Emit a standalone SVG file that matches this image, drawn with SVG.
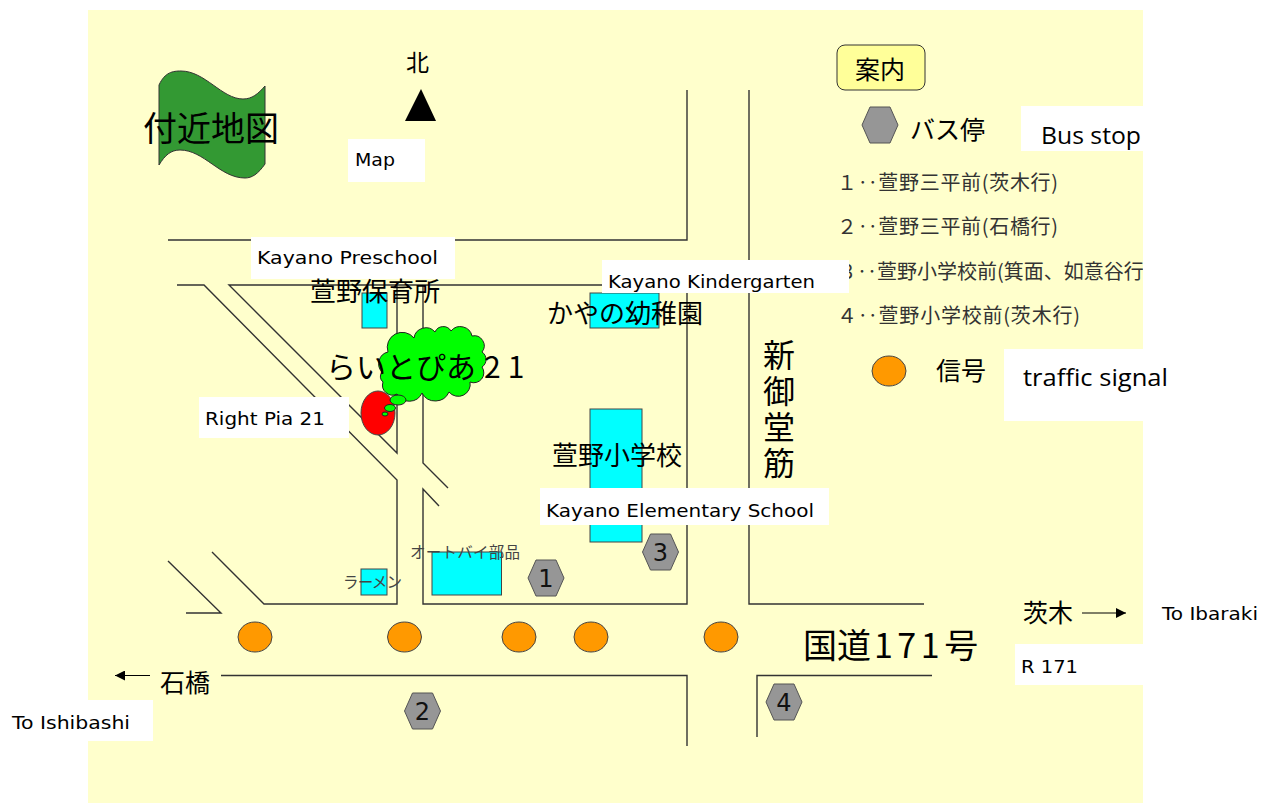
<svg xmlns="http://www.w3.org/2000/svg" xmlns:xlink="http://www.w3.org/1999/xlink" width="1263" height="803" viewBox="0 0 1263 803">
<defs>
<style>
text{font-family:"Noto Sans CJK JP","Liberation Sans",sans-serif;fill:#000}
.road{fill:none;stroke:#333;stroke-width:1.4}
.mask{fill:#fff}
.bldg{fill:#0ff;stroke:#444;stroke-width:1}
.sig{fill:#f90;stroke:#444;stroke-width:1}
.hex{fill:#969696;stroke:#555;stroke-width:1}
.jp{font-size:26px}
.en{font-family:"DejaVu Sans","Liberation Sans",sans-serif;font-size:18px}
.ca{font-family:"Open Sans","Liberation Sans",sans-serif;font-size:24px}
.li{font-size:20px;fill:#333}
.num{font-size:24px;text-anchor:middle;font-family:"DejaVu Sans",sans-serif;fill:#111}
.small{font-size:15.5px;fill:#444}
</style>
<polygon id="hexshape" class="hex" points="-18,0 -10,-18 10,-18 18,0 10,18 -10,18"/>
<marker id="ah" viewBox="0 0 10 10" refX="10" refY="5" markerWidth="10" markerHeight="10" markerUnits="userSpaceOnUse" orient="auto-start-reverse"><path d="M0 0L10 5L0 10Z" fill="#000"/></marker>
</defs>
<rect id="bg" x="88" y="10" width="1055" height="793" fill="#ffc"/>
<g id="banner">
<path d="M159 85C165 72 173 71 181 71C205 71 222 99 243 99C252 99 258 94 265 86V164C258 174 252 178 245 178C220 178 204 150 180 150C171 150 165 155 159 165Z" fill="#393" stroke="#333" stroke-width="1"/>
<text x="143" y="141" font-size="34">付近地図</text>
</g>
<g id="north">
<text x="406" y="71" font-size="23">北</text>
<polygon points="421,89 436,121 405,121" fill="#000"/>
</g>
<g id="connectors">
<path class="road" d="M168 240H687V90"/>
<path class="road" d="M749 90V604H924"/>
<path class="road" d="M177 285H204L397 480V604H264L212 552"/>
<path class="road" d="M397 285V453L229 285H687V604H423V489L439 506"/>
<path class="road" d="M423 285V463L448 488"/>
<path class="road" d="M168 561L221 613H186"/>
<path class="road" d="M221 675.500H687V746"/>
<path class="road" d="M757 737V675.500H932"/>
<path d="M150 675.500H115" fill="none" stroke="#000" marker-end="url(#ah)"/>
<path d="M1082 613H1126" fill="none" stroke="#000" marker-end="url(#ah)"/>
</g>
<g id="preschool">
<rect class="bldg" x="362" y="293" width="25" height="35"/>
<rect class="mask" x="251" y="237" width="204" height="42"/>
<text class="en" x="257" y="264" textLength="181" lengthAdjust="spacingAndGlyphs">Kayano Preschool</text>
<text class="jp" x="310" y="301">萱野保育所</text>
</g>
<g id="kindergarten">
<rect class="bldg" x="590" y="293" width="69" height="35"/>
<text class="jp" x="547" y="323">かやの幼稚園</text>
</g>
<g id="school">
<rect class="bldg" x="590" y="409" width="52" height="133"/>
<text class="jp" x="552" y="465">萱野小学校</text>
<rect class="mask" x="540" y="488" width="289" height="37"/>
<text class="en" x="546" y="517" textLength="268" lengthAdjust="spacingAndGlyphs">Kayano Elementary School</text>
</g>
<g id="shinmido">
<text x="779" y="339" font-size="32" letter-spacing="4" style="writing-mode:vertical-rl">新御堂筋</text>
</g>
<g id="ramen">
<rect class="bldg" x="361" y="569" width="26" height="26"/>
<text class="small" x="343" y="588" textLength="59">ラーメン</text>
</g>
<g id="bike">
<rect class="bldg" x="432" y="552" width="69.500" height="43"/>
<text class="small" x="410" y="558" textLength="110">オートバイ部品</text>
</g>
<g id="rightpia">
<path d="M388 352A15 15 0 0 1 414 338A12 12 0 0 1 435 332A9 9 0 0 1 451 331A12 12 0 0 1 472 336A10 10 0 0 1 482 352A9 9 0 0 1 482 367A10 10 0 0 1 470 382A12 12 0 0 1 449 392A15 15 0 0 1 422 393A14 14 0 0 1 397 394A10 10 0 0 1 383 382A7 7 0 0 1 382 372A12 12 0 0 1 388 352Z" fill="#0f0" stroke="#222" stroke-width="1"/>
<ellipse cx="378" cy="413" rx="17" ry="22" fill="#f00" stroke="#444"/>
<ellipse cx="398" cy="400" rx="8" ry="5" fill="#0f0" stroke="#222"/>
<ellipse cx="390" cy="408" rx="5.500" ry="3.500" fill="#0f0" stroke="#222"/>
<ellipse cx="385" cy="414" rx="3" ry="2" fill="#0f0" stroke="#222"/>
<text x="326" y="378" font-size="30">らいとぴあ<tspan dx="8" letter-spacing="7">21</tspan></text>
<rect class="mask" x="199" y="397" width="150" height="41"/>
<text class="en" x="205" y="425" textLength="120" lengthAdjust="spacingAndGlyphs">Right Pia 21</text>
</g>
<g id="map-label">
<rect class="mask" x="348" y="139" width="77" height="43"/>
<text class="en" x="355" y="166" textLength="40" lengthAdjust="spacingAndGlyphs">Map</text>
</g>
<g id="signals">
<ellipse class="sig" cx="255" cy="637" rx="17" ry="15"/>
<ellipse class="sig" cx="404.500" cy="637" rx="17" ry="15"/>
<ellipse class="sig" cx="519" cy="637" rx="17" ry="15"/>
<ellipse class="sig" cx="591" cy="637" rx="17" ry="15"/>
<ellipse class="sig" cx="721" cy="637" rx="17" ry="15"/>
</g>
<g id="stop1"><use xlink:href="#hexshape" href="#hexshape" x="546" y="578"/><text class="num" x="546" y="587">1</text></g>
<g id="stop2"><use xlink:href="#hexshape" href="#hexshape" x="422.500" y="711"/><text class="num" x="422.500" y="720">2</text></g>
<g id="stop3"><use xlink:href="#hexshape" href="#hexshape" x="660.500" y="552"/><text class="num" x="660.500" y="561">3</text></g>
<g id="stop4"><use xlink:href="#hexshape" href="#hexshape" x="784" y="702"/><text class="num" x="784" y="711">4</text></g>
<g id="route">
<text x="803" y="658" font-size="34">国道<tspan dx="3" letter-spacing="4.500">171</tspan>号</text>
<rect class="mask" x="1015" y="644" width="128" height="41"/>
<text class="en" x="1021" y="673" textLength="57" lengthAdjust="spacingAndGlyphs">R 171</text>
</g>
<g id="ishibashi">
<text x="160" y="692" font-size="25">石橋</text>
<rect class="mask" x="0" y="700" width="153" height="41"/>
<text class="en" x="12" y="729" textLength="118" lengthAdjust="spacingAndGlyphs">To Ishibashi</text>
</g>
<g id="ibaraki">
<text x="1023" y="622" font-size="25">茨木</text>
<text class="en" x="1162" y="620" textLength="96" lengthAdjust="spacingAndGlyphs">To Ibaraki</text>
</g>
<g id="legend">
<rect x="837" y="45" width="88" height="45" rx="8" fill="#ff9" stroke="#333"/>
<text x="855" y="79" font-size="25">案内</text>
<use xlink:href="#hexshape" href="#hexshape" x="880" y="125"/>
<text x="910" y="139" font-size="25">バス停</text>
<rect class="mask" x="1021" y="106" width="122" height="45"/>
<text class="ca" x="1041" y="144" textLength="100" lengthAdjust="spacingAndGlyphs">Bus stop</text>
<text class="li" x="837" y="190" textLength="221">１‥萱野三平前(茨木行)</text>
<text class="li" x="837" y="234" textLength="221">２‥萱野三平前(石橋行)</text>
<text class="li" x="837" y="279">３‥萱野小学校前(箕面、如意谷行)</text>
<text class="li" x="837" y="323" textLength="243">４‥萱野小学校前(茨木行)</text>
<ellipse class="sig" cx="889" cy="371" rx="17" ry="15"/>
<text x="936" y="380" font-size="25">信号</text>
<rect class="mask" x="1143" y="150" width="120" height="200"/>
<rect class="mask" x="1004" y="349" width="139" height="72"/>
<text class="ca" x="1023" y="386" textLength="145" lengthAdjust="spacingAndGlyphs">traffic signal</text>
</g>
<g id="kindergarten-label">
<rect class="mask" x="602" y="260" width="247" height="33"/>
<text class="en" x="608" y="288" textLength="207" lengthAdjust="spacingAndGlyphs">Kayano Kindergarten</text>
</g>
</svg>
